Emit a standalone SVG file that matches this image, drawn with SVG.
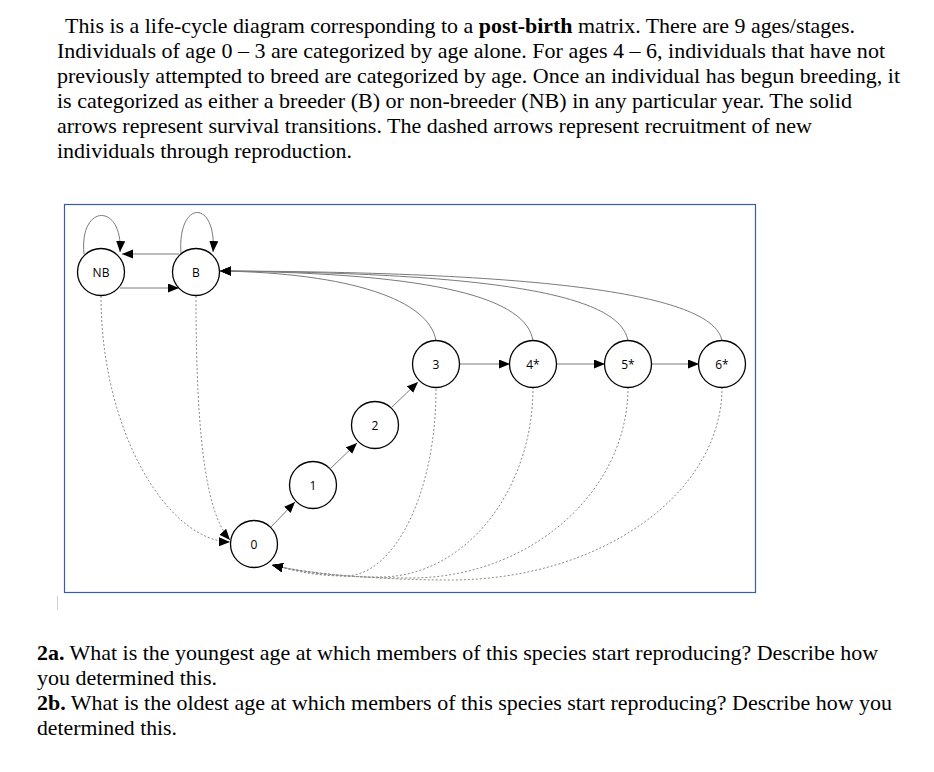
<svg xmlns="http://www.w3.org/2000/svg" width="934" height="772" viewBox="0 0 934 772">
<defs>
<style>
.t{font-size:22px;fill:#000}
.n circle{fill:#fff;stroke:#000;stroke-width:1.3}
.n text{font-size:12px;fill:#000;text-anchor:middle;dominant-baseline:central}
.s{fill:none;stroke:#7a7a7a;stroke-width:1}
.d{fill:none;stroke:#8a8a8a;stroke-width:1;stroke-dasharray:2,2}
</style>
<marker id="ah" markerUnits="userSpaceOnUse" markerWidth="12" markerHeight="10" refX="11" refY="4.5" orient="auto"><path d="M0,0 L11,4.5 L0,9 z" fill="#000"/></marker>
</defs>
<rect width="934" height="772" fill="#fff"/>
<g id="intro" font-family="Liberation Serif, Times New Roman, serif">
<text class="t" x="65" y="33" textLength="790" lengthAdjust="spacingAndGlyphs">This is a life-cycle diagram corresponding to a <tspan font-weight="bold">post-birth</tspan> matrix. There are 9 ages/stages.</text>
<text class="t" x="57" y="58" textLength="828" lengthAdjust="spacingAndGlyphs">Individuals of age 0 – 3 are categorized by age alone. For ages 4 – 6, individuals that have not</text>
<text class="t" x="57" y="83" textLength="843" lengthAdjust="spacingAndGlyphs">previously attempted to breed are categorized by age. Once an individual has begun breeding, it</text>
<text class="t" x="57" y="108" textLength="795" lengthAdjust="spacingAndGlyphs">is categorized as either a breeder (B) or non-breeder (NB) in any particular year. The solid</text>
<text class="t" x="57" y="133" textLength="755" lengthAdjust="spacingAndGlyphs">arrows represent survival transitions. The dashed arrows represent recruitment of new</text>
<text class="t" x="57" y="158" textLength="295" lengthAdjust="spacingAndGlyphs">individuals through reproduction.</text>
</g>
<rect id="frame" x="64.5" y="204.5" width="691" height="388" fill="none" stroke="#3b5ca3" stroke-width="1.2"/>
<g id="connectors">
<path class="s" d="M84,254 C79,203 123,203 120,252" marker-end="url(#ah)"/>
<path class="s" d="M181,254 C177,199 217,199 213,252" marker-end="url(#ah)"/>
<path class="s" d="M179,254 L122,254" marker-end="url(#ah)"/>
<path class="s" d="M120,288 L179,288" marker-end="url(#ah)"/>
<path class="s" d="M436,341 C430,300 350,273 220,271" marker-end="url(#ah)"/>
<path class="s" d="M533,341 C527,299 440,273 220,271" marker-end="url(#ah)"/>
<path class="s" d="M628,341 C621,299 520,273 220,271" marker-end="url(#ah)"/>
<path class="s" d="M722,341 C715,299 580,272 220,271" marker-end="url(#ah)"/>
<path class="s" d="M270,528 L295,502" marker-end="url(#ah)"/>
<path class="s" d="M331,468 L357,443" marker-end="url(#ah)"/>
<path class="s" d="M392,407 L418,382" marker-end="url(#ah)"/>
<path class="s" d="M460,364 L510,364" marker-end="url(#ah)"/>
<path class="s" d="M557,364 L605,364" marker-end="url(#ah)"/>
<path class="s" d="M652,364 L699,364" marker-end="url(#ah)"/>
<path class="d" d="M101,296 C101,432 168,541 230,542" marker-end="url(#ah)"/>
<path class="d" d="M196,296 C196,450 208,515 230,540" marker-end="url(#ah)"/>
<path class="d" d="M436,389 C436,492 395,576 345,576 C315,576 295,571 272,565" marker-end="url(#ah)"/>
<path class="d" d="M533,387 C533,492 464,577 380,577 C330,577 300,572 272,565" marker-end="url(#ah)"/>
<path class="d" d="M628,387 C628,492 530,578 410,578 C350,578 305,573 272,565" marker-end="url(#ah)"/>
<path class="d" d="M722,387 C722,494 600,580 450,580 C380,580 310,574 272,565" marker-end="url(#ah)"/>
</g>
<g font-family="Open Sans, Noto Sans, sans-serif">
<g id="node-NB" class="n"><circle cx="101" cy="272" r="23.5"/><text x="101" y="272">NB</text></g>
<g id="node-B" class="n"><circle cx="196" cy="272" r="23.5"/><text x="196" y="272">B</text></g>
<g id="node-0" class="n"><circle cx="254" cy="544" r="23.5"/><text x="254" y="544">0</text></g>
<g id="node-1" class="n"><circle cx="313" cy="485" r="23.5"/><text x="313" y="485">1</text></g>
<g id="node-2" class="n"><circle cx="375" cy="425" r="23.5"/><text x="375" y="425">2</text></g>
<g id="node-3" class="n"><circle cx="436" cy="364" r="23.5"/><text x="436" y="364">3</text></g>
<g id="node-4" class="n"><circle cx="533" cy="364" r="23.5"/><text x="533" y="364">4*</text></g>
<g id="node-5" class="n"><circle cx="628" cy="364" r="23.5"/><text x="628" y="364">5*</text></g>
<g id="node-6" class="n"><circle cx="722" cy="364" r="23.5"/><text x="722" y="364">6*</text></g>
</g>
<line x1="57.5" y1="596" x2="57.5" y2="610" stroke="#d0d0d0" stroke-width="1"/>
<g id="questions" font-family="Liberation Serif, Times New Roman, serif">
<text class="t" x="37" y="660" textLength="841" lengthAdjust="spacingAndGlyphs"><tspan font-weight="bold">2a.</tspan> What is the youngest age at which members of this species start reproducing? Describe how</text>
<text class="t" x="37" y="685" textLength="180" lengthAdjust="spacingAndGlyphs">you determined this.</text>
<text class="t" x="37" y="710" textLength="855" lengthAdjust="spacingAndGlyphs"><tspan font-weight="bold">2b.</tspan> What is the oldest age at which members of this species start reproducing? Describe how you</text>
<text class="t" x="37" y="735" textLength="140" lengthAdjust="spacingAndGlyphs">determined this.</text>
</g>
</svg>
